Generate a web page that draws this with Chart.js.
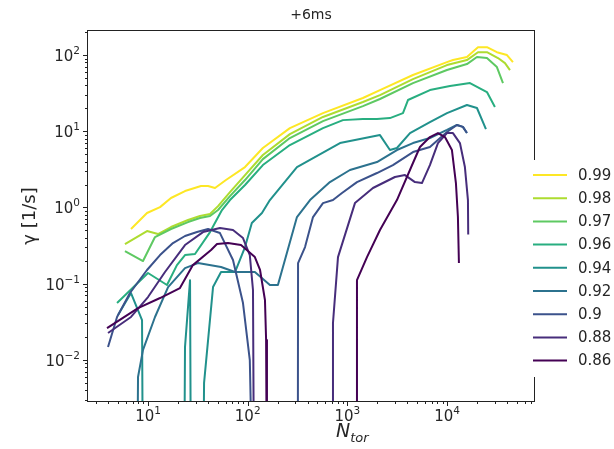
<!DOCTYPE html>
<html>
<head>
<meta charset="utf-8">
<script src="https://cdn.jsdelivr.net/npm/chart.js@4.4.1/dist/chart.umd.min.js"></script>
<style>
  html, body { margin: 0; padding: 0; background: #fff; }
</style>
</head>
<body>
<canvas id="chart" width="614" height="449"></canvas>
<script>
// legend labels and colours (viridis)
const levels = ['0.99', '0.98', '0.97', '0.96', '0.94', '0.92', '0.9', '0.88', '0.86'];
const colors = ['#fde725', '#addc30', '#5ec962', '#28ae80', '#21918c', '#2c728e', '#3b528b', '#472d7b', '#440154'];

// N_tor / gamma for every level (1e-4 = below the axis)
const nTor099 = [6.75, 9.77, 13.2, 17.0, 23.5, 34.0, 40.0, 47.0, 60.5, 94, 142, 265, 569, 1432, 2123, 4550, 9977, 11460, 15830, 20420, 25120, 31620, 39900, 45810];
const gamma099 = [0.521, 0.845, 1.01, 1.33, 1.64, 1.91, 1.91, 1.80, 2.29, 3.39, 6.03, 11.0, 17.3, 27.3, 34.7, 54.7, 80.9, 86, 94.2, 127, 127, 109, 100, 80.9];

const nTor098 = [5.87, 9.77, 12.6, 17.0, 25.2, 33.2, 41.9, 50.4, 66.4, 94, 142, 265, 569, 1432, 2123, 4550, 9977, 15830, 20420, 25120, 32430, 38110, 42760];
const gamma098 = [0.331, 0.49, 0.448, 0.553, 0.684, 0.771, 0.819, 1.04, 1.59, 2.66, 4.88, 9.18, 15.4, 24.2, 29.8, 48.4, 73.9, 86, 109, 109, 91.4, 78.5, 63.6];

const nTor097 = [5.87, 8.91, 11.75, 17.0, 25.2, 33.2, 41.9, 50.4, 66.4, 94, 142, 265, 569, 1432, 2123, 4550, 9977, 15830, 19950, 25120, 31620, 36390];
const gamma097 = [0.268, 0.198, 0.409, 0.521, 0.643, 0.726, 0.771, 0.925, 1.41, 2.29, 4.31, 8.15, 13.6, 21.4, 26.5, 42.9, 63.6, 76.2, 94.2, 91.4, 69.6, 42.9];

const nTor096 = [4.89, 10, 15.5, 19.5, 23.5, 29.6, 41.9, 55.2, 66.4, 94, 142, 265, 569, 903, 1432, 1981, 2673, 3611, 4054, 6730, 10690, 16980, 25120, 30200];
const gamma096 = [0.0556, 0.138, 0.0959, 0.175, 0.237, 0.245, 0.475, 0.925, 1.25, 1.97, 3.60, 6.59, 11.0, 14.0, 14.5, 14.5, 14.9, 17.3, 25.7, 34.7, 39.2, 42.9, 32.7, 20.8];

const nTor094 = [5.0, 6.75, 8.71, 8.91, 23.0, 23.5, 26.4, 27.0, 35.6, 36.5, 44.9, 54.0, 74.6, 94, 110, 139, 167, 312, 843, 2123, 2673, 3141, 4247, 6730, 9977, 15830, 19950, 24550];
const gamma094 = [0.0387, 0.0753, 0.0333, 1e-4, 1e-4, 0.0147, 0.111, 1e-4, 1e-4, 0.00497, 0.0902, 0.142, 0.142, 0.302, 0.624, 0.845, 1.25, 3.39, 7.0, 8.91, 5.67, 6.03, 9.47, 13.2, 17.3, 22.1, 20.2, 10.7];

const nTor092 = [7.76, 7.94, 8.91, 11.75, 15.9, 23.5, 31.7, 54.0, 74.6, 118, 167, 201, 312, 422, 668, 1061, 1981, 3141, 4550, 6730, 9977, 12560, 14420, 15830];
const gamma092 = [1e-4, 0.00594, 0.0135, 0.0365, 0.0902, 0.160, 0.186, 0.165, 0.142, 0.142, 0.0959, 0.0959, 0.748, 1.25, 2.15, 3.10, 3.94, 5.67, 7.0, 8.15, 10.4, 12.1, 11.4, 9.47];

const nTor090 = [3.97, 4.89, 6.59, 9.77, 13.2, 17.8, 23.5, 31.0, 40.0, 52.7, 71.2, 89.7, 105, 113, 318, 320, 376, 452, 569, 717, 883, 1248, 1981, 2864, 4550, 6730, 9977, 12560, 14420, 15830];
const gamma090 = [0.0147, 0.0365, 0.0753, 0.151, 0.237, 0.341, 0.422, 0.475, 0.521, 0.461, 0.204, 0.0556, 0.0099, 1e-4, 1e-4, 0.186, 0.302, 0.748, 1.14, 1.25, 1.55, 2.15, 2.83, 3.60, 5.33, 6.21, 9.77, 12.1, 11.4, 9.47];

const nTor088 = [3.97, 6.75, 10, 14.8, 23.5, 35.6, 52.7, 71.2, 89.7, 105, 113, 116, 715, 717, 805, 1191, 1805, 2999, 3784, 4764, 5598, 6730, 8103, 9977, 11460, 13460, 15100, 16200, 16300];
const gamma088 = [0.0225, 0.0365, 0.0667, 0.142, 0.321, 0.475, 0.537, 0.505, 0.397, 0.237, 0.0824, 1e-4, 1e-4, 0.0304, 0.223, 1.14, 1.80, 2.51, 2.66, 2.15, 2.09, 3.60, 7.0, 9.47, 9.47, 7.0, 3.39, 1.25, 0.44];

const nTor086 = [3.88, 7.94, 13.2, 20.9, 28.2, 42.9, 49.2, 63.4, 85.7, 118, 133, 149, 153, 156, 1240, 1248, 1573, 2123, 3141, 4550, 5346, 6730, 8103, 9524, 11190, 12270, 12850, 13150];
const gamma086 = [0.0261, 0.0478, 0.0647, 0.0875, 0.175, 0.276, 0.331, 0.341, 0.321, 0.223, 0.151, 0.061, 0.0182, 1e-4, 1e-4, 0.111, 0.223, 0.505, 1.25, 3.83, 6.21, 8.39, 9.47, 8.39, 5.67, 2.09, 0.748, 0.186];

// axis limits and major ticks (exponents)
const xMin = 2.5, xMax = 74500;
const yMin = 0.00288, yMax = 207;
const xTickExps = [1, 2, 3, 4];
const yTickExps = [-2, -1, 0, 1, 2];

const series = [
    [nTor099, gamma099], [nTor098, gamma098], [nTor097, gamma097],
    [nTor096, gamma096], [nTor094, gamma094], [nTor092, gamma092],
    [nTor090, gamma090], [nTor088, gamma088], [nTor086, gamma086]
];

const FONT = "'DejaVu Sans', sans-serif";

/**
 * Рисуем рамку, тики, подписи, заголовок и легенду сами, в стиле matplotlib.
 */
const decorPlugin = {
    id: 'decor',
    afterDraw(chart) {
        const ctx = chart.ctx;
        const {left, right, top, bottom} = chart.chartArea;
        const xs = chart.scales.x;
        const ys = chart.scales.y;
        ctx.save();

        // minor + major ticks
        ctx.strokeStyle = '#222';
        ctx.lineWidth = 1;
        for (let e = 0; e <= 5; e++) {
            for (let k = 1; k <= 9; k++) {
                const v = k * Math.pow(10, e);
                if (v < xMin || v > xMax) continue;
                const px = Math.round(xs.getPixelForValue(v)) + 0.5;
                const len = k === 1 ? 5 : 3;
                ctx.beginPath();
                ctx.moveTo(px, bottom);
                ctx.lineTo(px, bottom + len);
                ctx.stroke();
            }
        }
        for (let e = -3; e <= 2; e++) {
            for (let k = 1; k <= 9; k++) {
                const v = k * Math.pow(10, e);
                if (v < yMin || v > yMax) continue;
                const py = Math.round(ys.getPixelForValue(v)) + 0.5;
                const len = k === 1 ? 5 : 3;
                ctx.beginPath();
                ctx.moveTo(left, py);
                ctx.lineTo(left - len, py);
                ctx.stroke();
            }
        }

        // spines
        ctx.strokeStyle = '#222';
        ctx.lineWidth = 1;
        ctx.strokeRect(left - 0.5, top - 0.5, right - left + 1, bottom - top + 1);

        // tick labels 10^n
        const baseFont = '15px ' + FONT;
        const expFont = '10.5px ' + FONT;
        const drawPow = (exp, x, y, align) => {
            const expText = exp < 0 ? '\u2212' + Math.abs(exp) : String(exp);
            ctx.font = baseFont;
            const wb = ctx.measureText('10').width;
            ctx.font = expFont;
            const we = ctx.measureText(expText).width;
            const x0 = align === 'center' ? x - (wb + we) / 2 : x - (wb + we);
            ctx.fillStyle = '#262626';
            ctx.textAlign = 'left';
            ctx.textBaseline = 'alphabetic';
            ctx.font = baseFont;
            ctx.fillText('10', x0, y);
            ctx.font = expFont;
            ctx.fillText(expText, x0 + wb, y - 7);
        };
        xTickExps.forEach((e) => drawPow(e, xs.getPixelForValue(Math.pow(10, e)), bottom + 20, 'center'));
        yTickExps.forEach((e) => drawPow(e, left - 8, ys.getPixelForValue(Math.pow(10, e)) + 6, 'right'));

        // title
        ctx.fillStyle = '#262626';
        ctx.font = '14px ' + FONT;
        ctx.textAlign = 'center';
        ctx.fillText('+6ms', (left + right) / 2, 19);

        // y label
        ctx.save();
        ctx.translate(30, (top + bottom) / 2);
        ctx.rotate(-Math.PI / 2);
        ctx.font = '18px ' + FONT;
        ctx.textAlign = 'center';
        ctx.textBaseline = 'middle';
        ctx.fillText('\u03b3 [1/s]', 0, 0);
        ctx.restore();

        // x label N_tor
        ctx.textAlign = 'left';
        ctx.textBaseline = 'alphabetic';
        const lx = 336;
        ctx.font = 'italic 19px ' + FONT;
        const wN = ctx.measureText('N').width;
        ctx.fillText('N', lx, 437);
        ctx.font = 'italic 13px ' + FONT;
        ctx.fillText('tor', lx + wN, 442);

        // legend
        ctx.fillStyle = '#fff';
        ctx.fillRect(524, 160, 90, 217);
        const rowH = 23.2;
        chart.data.datasets.forEach((ds, i) => {
            const y = 175 + i * rowH;
            ctx.strokeStyle = ds.borderColor;
            ctx.lineWidth = 2;
            ctx.beginPath();
            ctx.moveTo(533, y);
            ctx.lineTo(567, y);
            ctx.stroke();
            ctx.fillStyle = '#262626';
            ctx.font = '15px ' + FONT;
            ctx.textBaseline = 'middle';
            ctx.fillText(ds.label, 578, y + 1);
        });
        ctx.restore();
    }
};

const onDOMLoaded = () => {
    const CHART = document.getElementById('chart').getContext('2d');

    const datasets = levels.map((label, i) => ({
        label,
        data: series[i][0].map((x, j) => ({x, y: series[i][1][j]})),
        borderColor: colors[i],
        backgroundColor: colors[i],
        borderWidth: 2,
        pointRadius: 0,
        tension: 0,
        fill: false,
        clip: 0,
        borderJoinStyle: 'round',
        order: levels.length - i
    }));

    new Chart(CHART, {
        type: 'line',
        data: {datasets},
        options: {
            responsive: false,
            animation: false,
            devicePixelRatio: 1,
            layout: {padding: {left: 88, right: 80, top: 31, bottom: 48}},
            plugins: {legend: {display: false}, tooltip: {enabled: false}, title: {display: false}},
            scales: {
                x: {
                    type: 'logarithmic', min: xMin, max: xMax,
                    grid: {display: false, drawTicks: false},
                    border: {display: false},
                    ticks: {display: false}
                },
                y: {
                    type: 'logarithmic', min: yMin, max: yMax,
                    grid: {display: false, drawTicks: false},
                    border: {display: false},
                    ticks: {display: false}
                }
            }
        },
        plugins: [decorPlugin]
    });
};

document.addEventListener('DOMContentLoaded', onDOMLoaded);
</script>
</body>
</html>
